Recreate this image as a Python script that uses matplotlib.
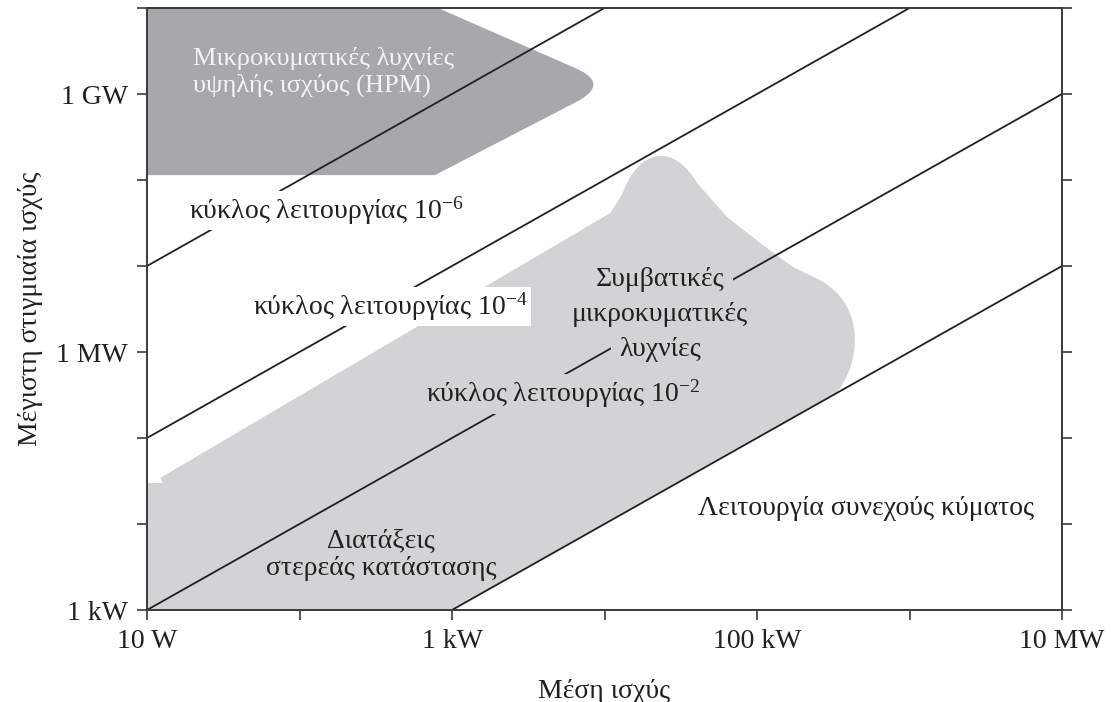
import numpy as np
import matplotlib
matplotlib.use('Agg')
import matplotlib.pyplot as plt
from matplotlib.path import Path
from matplotlib.patches import PathPatch
from matplotlib.ticker import FixedLocator, FixedFormatter, NullLocator

plt.rcParams['font.family'] = ['Liberation Serif', 'DejaVu Serif']
plt.rcParams['mathtext.fontset'] = 'custom'
plt.rcParams['mathtext.rm'] = 'Liberation Serif'
plt.rcParams['mathtext.it'] = 'Liberation Serif:italic'

INK = '#231f20'
DARK = '#a7a8ab'
LIGHT = '#d1d3d4'

# αξονες (W)
avg_ticks = [1e1, 1e2, 1e3, 1e4, 1e5, 1e6, 1e7]
avg_labels = ['10 W', '', '1 kW', '', '100 kW', '', '10 MW']
peak_ticks = [1e3, 1e4, 1e5, 1e6, 1e7, 1e8, 1e9, 1e10]
peak_labels = ['1 kW', '', '', '1 MW', '', '', '1 GW', '']

# κύκλοι λειτουργίας: peak = avg / duty
duty_cycles = [1e-6, 1e-4, 1e-2, 1.0]

# περιοχή HPM (μέση ισχύς, μέγιστη ισχύς)
hpm_avg = [10, 809, 6.2e3, 1.09e4, 6.9e3, 774, 10, 10]
hpm_peak = [1e10, 1e10, 2.06e9, 1.38e9, 8.5e8, 1.14e8, 1.14e8, 1e10]
hpm_codes = [Path.MOVETO, Path.LINETO, Path.LINETO, Path.CURVE3, Path.CURVE3,
             Path.LINETO, Path.LINETO, Path.CLOSEPOLY]

# συμβατικές λυχνίες + διατάξεις στερεάς κατάστασης
conv_avg = [10, 1e3, 3.3e5, 4.73e5, 5.35e5, 2.51e5, 1.72e5, 1.05e5, 6.35e4,
            4.05e4, 2.9e4, 1.71e4, 1.3e4, 1.09e4, 12.2, 12.7, 10, 10]
conv_peak = [1e3, 1e3, 3.3e5, 7.06e5, 3.52e6, 7.06e6, 9.73e6, 1.85e7, 3.72e7,
             9.23e7, 2.55e8, 2.55e8, 6.7e7, 4.13e7, 3.43e4, 3.0e4, 3.0e4, 1e3]
conv_codes = [Path.MOVETO, Path.LINETO, Path.LINETO,
              Path.CURVE4, Path.CURVE4, Path.CURVE4,
              Path.LINETO, Path.LINETO, Path.LINETO, Path.LINETO,
              Path.CURVE4, Path.CURVE4, Path.CURVE4,
              Path.LINETO, Path.LINETO, Path.LINETO, Path.LINETO, Path.CLOSEPOLY]

fig = plt.figure(figsize=(11.11, 7.02), dpi=100)
ax = fig.add_axes([147 / 1111, 92 / 702, 915 / 1111, 602 / 702])
ax.set_xscale('log')
ax.set_yscale('log')
ax.set_xlim(avg_ticks[0], avg_ticks[-1])
ax.set_ylim(peak_ticks[0], peak_ticks[-1])

ax.add_patch(PathPatch(Path(np.column_stack([conv_avg, conv_peak]), conv_codes),
                       fc=LIGHT, ec='none', zorder=1))
ax.add_patch(PathPatch(Path(np.column_stack([hpm_avg, hpm_peak]), hpm_codes),
                       fc=DARK, ec='none', zorder=1))

xs = np.array([avg_ticks[0], avg_ticks[-1]])
for d in duty_cycles:
    ax.plot(xs, xs / d, color=INK, lw=1.3, zorder=2)

fs = 20
box_w = dict(boxstyle='square,pad=0.12', fc='white', ec='none')
box_g = dict(boxstyle='square,pad=0.12', fc=LIGHT, ec='none')
box_g2 = dict(boxstyle='square,pad=0.3', fc=LIGHT, ec='none')

ax.text(20, 1.8e9, 'Μικροκυματικές λυχνίες\nυψηλής ισχύος (HPM)', color='#f4f4f4',
        fontsize=19, ha='left', va='center', linespacing=1.2, zorder=3)
ax.text(149, 4.4e7, 'κύκλος λειτουργίας 10$^{-6}$', color=INK, fontsize=fs,
        ha='center', va='center', bbox=box_w, zorder=3)
ax.text(392, 3.4e6, 'κύκλος λειτουργίας 10$^{-4}$', color=INK, fontsize=fs,
        ha='center', va='center', bbox=box_w, zorder=3)
ax.text(5.35e3, 3.25e5, 'κύκλος λειτουργίας 10$^{-2}$', color=INK, fontsize=fs,
        ha='center', va='center', bbox=box_g, zorder=3)
for line, y in zip(['Συμβατικές', 'μικροκυματικές', 'λυχνίες'], [6.9e6, 2.7e6, 1.08e6]):
    ax.text(2.31e4, y, line, color=INK, fontsize=fs, ha='center', va='center',
            bbox=box_g2, zorder=3)
ax.text(342, 4.37e3, 'Διατάξεις\nστερεάς κατάστασης', color=INK, fontsize=fs,
        ha='center', va='center', linespacing=1.15, zorder=3)
ax.text(5.19e5, 1.53e4, 'Λειτουργία συνεχούς κύματος', color=INK, fontsize=fs,
        ha='center', va='center', zorder=3)

ax.xaxis.set_major_locator(FixedLocator(avg_ticks))
ax.xaxis.set_major_formatter(FixedFormatter(avg_labels))
ax.yaxis.set_major_locator(FixedLocator(peak_ticks))
ax.yaxis.set_major_formatter(FixedFormatter(peak_labels))
ax.xaxis.set_minor_locator(NullLocator())
ax.yaxis.set_minor_locator(NullLocator())
ax.tick_params(which='major', direction='out', length=7.5, width=1.2,
               color='#3a3a3a', labelcolor=INK, labelsize=fs, pad=6,
               left=True, right=True, top=False, bottom=True)
for s in ax.spines.values():
    s.set_linewidth(1.4)
    s.set_color('#3a3a3a')

ax.set_xlabel('Μέση ισχύς', fontsize=fs, color=INK, labelpad=18)
ax.set_ylabel('Μέγιστη στιγμιαία ισχύς', fontsize=fs, color=INK, labelpad=10)

fig.savefig('out.png', dpi=100)
